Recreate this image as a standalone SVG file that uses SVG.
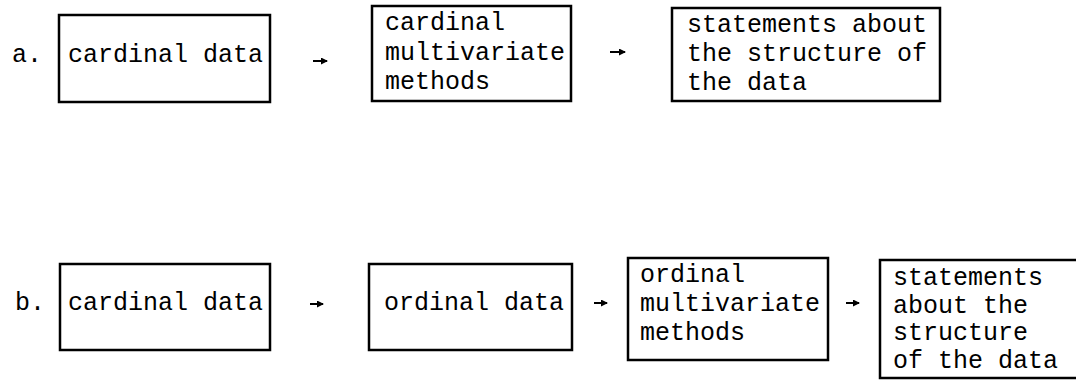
<svg xmlns="http://www.w3.org/2000/svg" width="1076" height="382" viewBox="0 0 1076 382">
<style>
.box{fill:none;stroke:#000;stroke-width:2.5}
.t{font-family:"Liberation Mono","Courier New",monospace;font-size:25px;fill:#000}
.c{stroke:#000;stroke-width:2;fill:none}
</style>
<defs>
<marker id="ah" markerWidth="7" markerHeight="7" refX="6" refY="3.5" orient="auto" markerUnits="userSpaceOnUse"><path d="M0,0 L7,3.5 L0,7 z" fill="#000"/></marker>
</defs>
<text class="t" x="12" y="62">a.</text>
<text class="t" x="15" y="310">b.</text>
<g id="a1"><rect class="box" x="59" y="15" width="211" height="87"/><text class="t" x="68" y="62">cardinal data</text></g>
<g id="a2"><rect class="box" x="372" y="6" width="199" height="95"/><text class="t" x="385" y="30">cardinal</text><text class="t" x="385" y="60">multivariate</text><text class="t" x="385" y="89">methods</text></g>
<g id="a3"><rect class="box" x="672" y="8" width="268" height="93"/><text class="t" x="687" y="32">statements about</text><text class="t" x="687" y="61">the structure of</text><text class="t" x="687" y="90">the data</text></g>
<g id="b1"><rect class="box" x="60" y="264" width="210" height="86"/><text class="t" x="68" y="310">cardinal data</text></g>
<g id="b2"><rect class="box" x="369" y="264" width="203" height="86"/><text class="t" x="384" y="310">ordinal data</text></g>
<g id="b3"><rect class="box" x="628" y="258" width="200" height="102"/><text class="t" x="640" y="282">ordinal</text><text class="t" x="640" y="311">multivariate</text><text class="t" x="640" y="340">methods</text></g>
<g id="b4"><rect class="box" x="880" y="260" width="210" height="118"/><text class="t" x="893" y="285">statements</text><text class="t" x="893" y="313">about the</text><text class="t" x="893" y="340">structure</text><text class="t" x="893" y="368">of the data</text></g>
<g id="connectors">
<line class="c" x1="313" y1="61" x2="327" y2="61" marker-end="url(#ah)"/>
<line class="c" x1="610" y1="52" x2="625" y2="52" marker-end="url(#ah)"/>
<line class="c" x1="310" y1="304" x2="323" y2="304" marker-end="url(#ah)"/>
<line class="c" x1="594" y1="303" x2="607" y2="303" marker-end="url(#ah)"/>
<line class="c" x1="846" y1="303" x2="859" y2="303" marker-end="url(#ah)"/>
</g>
</svg>
